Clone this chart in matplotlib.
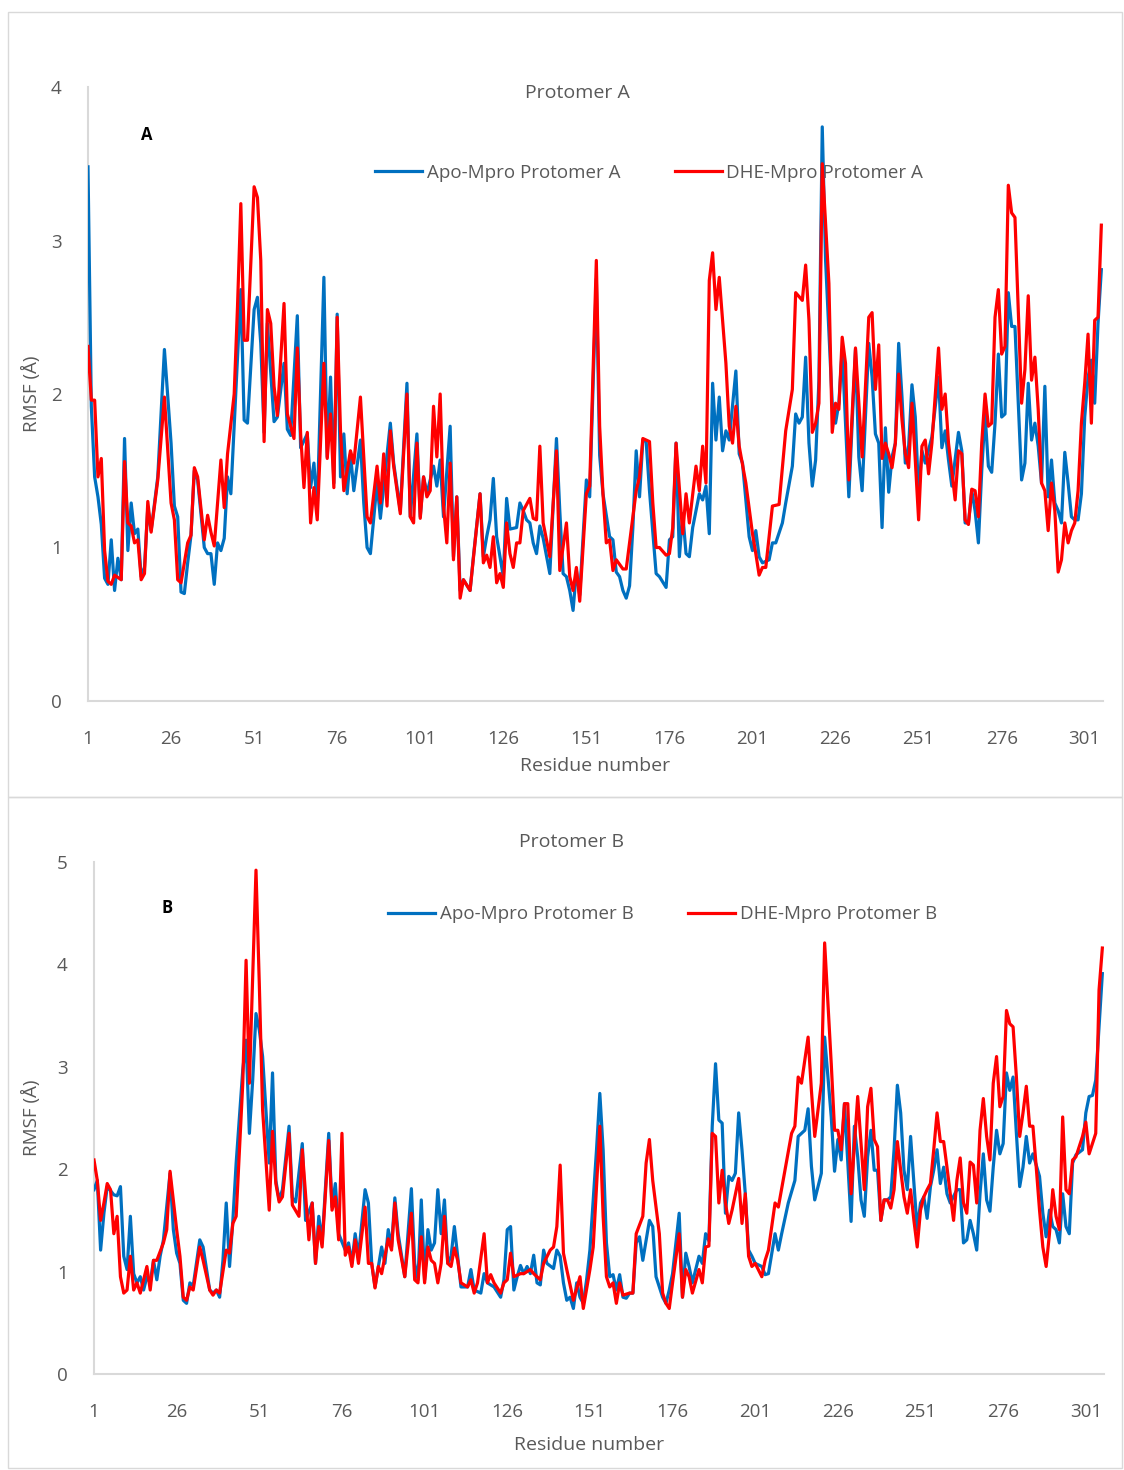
import matplotlib
matplotlib.use("Agg")
import matplotlib.pyplot as plt
from matplotlib.patches import Rectangle

plt.rcParams['font.family'] = ['Open Sans', 'DejaVu Sans']

# ---- Protomer A (residue, RMSF in Angstrom) ----
res_apo_A = [1, 2, 3, 4, 5, 6, 7, 8, 9, 10, 11, 12, 13, 14, 15, 16, 17, 18, 19, 20,
             22, 24, 26, 27, 28, 29, 30, 31, 32, 33, 34, 36, 37, 38, 39, 40, 41, 42, 43, 44,
             45, 47, 48, 49, 51, 52, 53, 54, 55, 57, 58, 60, 61, 62, 64, 65, 67, 68, 69, 70,
             72, 73, 74, 75, 76, 77, 78, 79, 80, 81, 83, 84, 85, 86, 88, 89, 92, 93, 95, 97,
             98, 100, 101, 102, 103, 105, 106, 107, 108, 110, 111, 112, 113, 114, 116, 117, 119, 120, 121, 122,
             123, 124, 125, 126, 127, 128, 130, 131, 132, 133, 134, 135, 136, 137, 138, 140, 142, 143, 144, 145,
             146, 147, 148, 149, 151, 152, 154, 155, 156, 158, 159, 160, 161, 162, 163, 164, 165, 166, 167, 168,
             169, 170, 172, 173, 175, 176, 177, 178, 179, 180, 181, 182, 183, 185, 186, 187, 188, 189, 190, 191,
             192, 193, 194, 196, 197, 198, 200, 201, 202, 203, 204, 206, 207, 208, 210, 211, 213, 214, 215, 216,
             217, 218, 219, 220, 221, 222, 223, 225, 226, 227, 228, 230, 232, 233, 234, 236, 237, 238, 239, 240,
             241, 242, 243, 244, 245, 246, 247, 248, 249, 250, 251, 252, 253, 255, 257, 258, 259, 260, 261, 263,
             264, 265, 266, 267, 268, 269, 270, 271, 272, 273, 274, 275, 276, 277, 278, 279, 280, 281, 282, 283,
             284, 285, 286, 287, 288, 289, 290, 291, 292, 293, 294, 295, 296, 297, 298, 299, 300, 301, 302, 303,
             304, 305, 306]
rmsf_apo_A = [3.48, 1.92, 1.46, 1.33, 1.15, 0.80, 0.76, 1.05, 0.72, 0.93, 0.79, 1.71, 0.98, 1.29, 1.09, 1.12, 0.81, 0.87, 1.26, 1.11,
              1.46, 2.29, 1.68, 1.27, 1.20, 0.71, 0.70, 0.90, 1.08, 1.50, 1.44, 1.00, 0.96, 0.96, 0.76, 1.03, 0.98, 1.06, 1.46, 1.35,
              1.79, 2.68, 1.83, 1.81, 2.55, 2.63, 2.33, 1.75, 2.46, 1.82, 1.85, 2.20, 1.77, 1.73, 2.51, 1.65, 1.74, 1.39, 1.55, 1.26,
              2.76, 1.59, 2.11, 1.42, 2.52, 1.46, 1.74, 1.35, 1.61, 1.37, 1.70, 1.29, 1.00, 0.96, 1.42, 1.19, 1.81, 1.55, 1.24, 2.07,
              1.20, 1.74, 1.20, 1.46, 1.35, 1.53, 1.40, 1.57, 1.20, 1.79, 0.94, 1.33, 0.72, 0.79, 0.72, 0.94, 1.35, 0.94, 1.07, 1.18,
              1.45, 1.07, 0.94, 0.81, 1.32, 1.12, 1.13, 1.29, 1.24, 1.18, 1.16, 1.03, 0.96, 1.14, 1.06, 0.83, 1.71, 1.24, 0.83, 0.81,
              0.72, 0.59, 0.85, 0.69, 1.44, 1.33, 2.75, 1.60, 1.35, 1.07, 1.05, 0.84, 0.81, 0.72, 0.67, 0.75, 1.13, 1.63, 1.33, 1.70,
              1.69, 1.37, 0.83, 0.81, 0.74, 1.05, 1.07, 1.68, 0.94, 1.22, 0.96, 0.94, 1.13, 1.35, 1.31, 1.40, 1.09, 2.07, 1.70, 1.98,
              1.63, 1.76, 1.70, 2.15, 1.61, 1.55, 1.07, 0.98, 1.11, 0.94, 0.90, 0.92, 1.03, 1.03, 1.16, 1.29, 1.53, 1.87, 1.81, 1.85,
              2.24, 1.68, 1.40, 1.57, 2.09, 3.74, 2.87, 1.94, 1.81, 1.94, 2.29, 1.33, 2.29, 1.59, 1.37, 2.33, 2.11, 1.74, 1.68, 1.13,
              1.78, 1.36, 1.59, 1.68, 2.33, 1.98, 1.55, 1.66, 2.06, 1.85, 1.35, 1.63, 1.55, 1.72, 2.11, 1.65, 1.76, 1.57, 1.40, 1.75,
              1.63, 1.16, 1.16, 1.37, 1.24, 1.03, 1.50, 1.87, 1.53, 1.49, 1.81, 2.26, 1.85, 1.87, 2.66, 2.44, 2.44, 1.94, 1.44, 1.55,
              2.07, 1.70, 1.81, 1.66, 1.42, 2.05, 1.33, 1.57, 1.29, 1.24, 1.16, 1.62, 1.42, 1.20, 1.18, 1.18, 1.35, 1.85, 2.11, 2.22,
              1.94, 2.46, 2.81]

res_dhe_A = [1, 2, 3, 4, 5, 6, 7, 8, 9, 11, 12, 13, 14, 15, 16, 17, 18, 19, 20, 22,
             24, 26, 27, 28, 29, 31, 32, 33, 34, 36, 37, 38, 39, 41, 42, 43, 45, 46, 47, 48,
             49, 51, 52, 53, 54, 55, 56, 57, 58, 60, 61, 63, 64, 65, 66, 67, 68, 69, 70, 72,
             73, 74, 75, 76, 77, 78, 80, 81, 83, 85, 86, 88, 89, 90, 91, 92, 93, 95, 97, 98,
             99, 100, 101, 102, 103, 104, 105, 106, 107, 108, 109, 110, 111, 112, 113, 114, 116, 119, 120, 121,
             122, 123, 124, 125, 126, 127, 128, 129, 130, 131, 132, 134, 135, 136, 137, 138, 140, 142, 143, 145,
             146, 147, 148, 149, 151, 152, 154, 155, 156, 157, 158, 159, 160, 162, 163, 164, 166, 167, 168, 170,
             171, 172, 173, 175, 176, 177, 178, 180, 181, 182, 184, 185, 186, 187, 188, 189, 190, 191, 193, 194,
             195, 196, 197, 199, 201, 202, 203, 204, 205, 207, 209, 211, 213, 214, 216, 217, 218, 219, 220, 221,
             222, 224, 225, 226, 227, 228, 229, 230, 232, 233, 234, 236, 237, 238, 239, 240, 241, 242, 243, 244,
             245, 246, 247, 248, 249, 250, 251, 252, 253, 254, 255, 257, 258, 259, 260, 261, 262, 263, 264, 265,
             266, 267, 268, 269, 270, 271, 272, 273, 274, 275, 276, 277, 278, 279, 280, 282, 283, 284, 285, 286,
             287, 288, 289, 290, 291, 292, 293, 294, 295, 296, 297, 298, 299, 300, 301, 302, 303, 304, 305, 306]
rmsf_dhe_A = [2.31, 1.96, 1.96, 1.46, 1.58, 0.98, 0.78, 0.76, 0.82, 0.79, 1.56, 1.16, 1.14, 1.03, 1.05, 0.79, 0.83, 1.30, 1.10, 1.44,
              1.98, 1.29, 1.18, 0.79, 0.77, 1.03, 1.08, 1.52, 1.46, 1.05, 1.21, 1.10, 1.01, 1.57, 1.26, 1.61, 2.00, 2.57, 3.24, 2.35,
              2.35, 3.35, 3.28, 2.87, 1.69, 2.55, 2.46, 2.05, 1.86, 2.59, 1.87, 1.71, 2.30, 1.74, 1.39, 1.75, 1.16, 1.39, 1.18, 2.20,
              1.58, 1.87, 1.39, 2.50, 1.76, 1.37, 1.63, 1.55, 1.98, 1.20, 1.16, 1.53, 1.29, 1.61, 1.27, 1.76, 1.53, 1.22, 2.00, 1.20,
              1.16, 1.68, 1.19, 1.46, 1.33, 1.37, 1.92, 1.59, 2.00, 1.27, 1.03, 1.55, 0.92, 1.33, 0.67, 0.79, 0.72, 1.35, 0.90, 0.95,
              0.87, 1.07, 0.77, 0.83, 0.74, 1.16, 0.96, 0.87, 1.03, 1.03, 1.24, 1.32, 1.19, 1.18, 1.66, 1.16, 0.94, 1.63, 0.85, 1.16,
              0.81, 0.72, 0.87, 0.65, 1.35, 1.40, 2.87, 1.79, 1.35, 1.03, 1.05, 0.85, 0.92, 0.86, 0.86, 1.03, 1.37, 1.46, 1.71, 1.69,
              1.29, 1.00, 1.00, 0.95, 0.96, 1.13, 1.68, 1.09, 1.35, 1.16, 1.53, 1.37, 1.66, 1.42, 2.74, 2.92, 2.55, 2.76, 2.20, 1.79,
              1.68, 1.92, 1.66, 1.42, 1.09, 0.96, 0.82, 0.87, 0.87, 1.27, 1.28, 1.76, 2.03, 2.66, 2.61, 2.84, 2.48, 1.75, 1.81, 1.94,
              3.50, 2.72, 1.75, 1.94, 1.90, 2.37, 2.20, 1.44, 2.30, 1.94, 1.59, 2.50, 2.53, 2.03, 2.32, 1.58, 1.68, 1.61, 1.52, 1.68,
              2.13, 1.83, 1.61, 1.52, 1.94, 1.57, 1.18, 1.66, 1.70, 1.48, 1.68, 2.30, 1.90, 2.00, 1.68, 1.50, 1.31, 1.63, 1.61, 1.18,
              1.15, 1.38, 1.37, 1.20, 1.68, 2.00, 1.79, 1.81, 2.50, 2.68, 2.26, 2.31, 3.36, 3.18, 3.15, 1.94, 2.16, 2.64, 2.09, 2.24,
              1.90, 1.42, 1.37, 1.11, 1.42, 1.24, 0.84, 0.92, 1.16, 1.03, 1.11, 1.16, 1.37, 1.81, 2.07, 2.39, 1.81, 2.48, 2.50, 3.10]

# ---- Protomer B ----
res_apo_B = [1, 2, 3, 4, 5, 7, 8, 9, 10, 11, 12, 13, 14, 15, 16, 17, 18, 19, 20, 21,
             22, 24, 25, 26, 27, 28, 29, 30, 31, 33, 34, 36, 37, 38, 39, 40, 41, 42, 43, 44,
             46, 47, 48, 49, 50, 51, 52, 54, 55, 56, 57, 58, 60, 61, 62, 64, 65, 67, 68, 69,
             70, 72, 73, 74, 75, 77, 78, 79, 80, 81, 83, 84, 85, 86, 88, 89, 90, 91, 92, 93,
             95, 97, 98, 99, 100, 101, 102, 103, 104, 105, 106, 107, 108, 109, 110, 111, 112, 114, 115, 116,
             118, 119, 120, 122, 124, 125, 126, 127, 128, 129, 130, 131, 132, 133, 134, 135, 136, 137, 138, 140,
             141, 142, 143, 144, 145, 146, 147, 148, 149, 150, 151, 153, 154, 155, 156, 157, 158, 159, 160, 161,
             162, 163, 164, 165, 166, 167, 169, 170, 171, 173, 174, 175, 176, 178, 179, 180, 181, 182, 184, 185,
             186, 187, 188, 189, 190, 191, 192, 193, 194, 195, 196, 197, 198, 199, 200, 201, 203, 204, 205, 207,
             208, 209, 211, 213, 214, 216, 217, 218, 219, 220, 221, 222, 224, 225, 226, 227, 228, 230, 231, 232,
             233, 234, 235, 236, 237, 238, 239, 240, 241, 242, 243, 244, 245, 246, 247, 248, 249, 250, 251, 252,
             253, 254, 255, 256, 257, 258, 259, 260, 262, 263, 264, 265, 266, 267, 268, 269, 270, 271, 272, 273,
             274, 275, 276, 277, 278, 279, 280, 281, 282, 283, 284, 285, 287, 288, 289, 290, 291, 292, 293, 294,
             295, 296, 297, 298, 300, 301, 302, 303, 304, 306]
rmsf_apo_B = [1.80, 1.89, 1.21, 1.57, 1.83, 1.75, 1.74, 1.83, 1.15, 1.02, 1.54, 0.98, 0.89, 0.95, 0.82, 0.95, 0.89, 1.11, 0.92, 1.15,
              1.31, 1.96, 1.41, 1.18, 1.08, 0.72, 0.69, 0.89, 0.86, 1.31, 1.24, 0.82, 0.79, 0.82, 0.75, 1.11, 1.67, 1.05, 1.50, 2.06,
              2.97, 3.26, 2.35, 2.87, 3.52, 3.36, 3.10, 2.06, 2.94, 1.89, 1.70, 1.80, 2.42, 1.72, 1.68, 2.25, 1.50, 1.67, 1.08, 1.54,
              1.28, 2.35, 1.63, 1.86, 1.37, 1.21, 1.28, 1.08, 1.37, 1.15, 1.80, 1.67, 1.08, 0.85, 1.24, 1.08, 1.41, 1.24, 1.72, 1.37,
              0.95, 1.81, 1.08, 0.92, 1.70, 0.92, 1.41, 1.21, 1.28, 1.80, 1.37, 1.70, 1.08, 1.15, 1.44, 1.15, 0.85, 0.85, 1.02, 0.82,
              0.79, 0.98, 0.89, 0.85, 0.75, 0.92, 1.41, 1.44, 0.82, 0.95, 1.06, 0.98, 1.05, 0.98, 1.16, 0.89, 0.87, 1.21, 1.08, 1.03,
              1.21, 1.15, 0.89, 0.72, 0.75, 0.64, 0.89, 0.75, 0.69, 0.92, 1.21, 2.19, 2.74, 2.19, 1.28, 0.95, 0.97, 0.82, 0.97, 0.75,
              0.74, 0.79, 0.79, 1.28, 1.34, 1.11, 1.50, 1.44, 0.95, 0.75, 0.69, 0.82, 0.98, 1.57, 0.75, 1.18, 1.05, 0.89, 1.15, 1.08,
              1.37, 1.30, 2.42, 3.03, 2.48, 2.45, 1.57, 1.93, 1.89, 1.96, 2.55, 2.19, 1.76, 1.21, 1.15, 1.08, 1.05, 0.97, 0.98, 1.37,
              1.21, 1.37, 1.67, 1.89, 2.32, 2.38, 2.59, 2.03, 1.70, 1.83, 1.96, 3.29, 2.51, 1.98, 2.29, 2.09, 2.64, 1.49, 2.42, 2.12,
              1.70, 1.54, 2.12, 2.38, 1.99, 1.99, 1.50, 1.70, 1.70, 1.73, 2.19, 2.82, 2.55, 1.99, 1.80, 2.32, 1.86, 1.41, 1.67, 1.73,
              1.52, 1.83, 1.99, 2.19, 1.86, 2.02, 1.76, 1.67, 1.80, 1.80, 1.28, 1.31, 1.50, 1.37, 1.21, 1.76, 2.15, 1.70, 1.59, 2.02,
              2.38, 2.15, 2.25, 2.94, 2.77, 2.90, 2.35, 1.83, 2.02, 2.32, 2.06, 2.15, 1.93, 1.57, 1.34, 1.60, 1.44, 1.41, 1.28, 1.76,
              1.44, 1.37, 2.06, 2.14, 2.19, 2.55, 2.71, 2.72, 2.87, 3.91]

res_dhe_B = [1, 2, 3, 4, 5, 6, 7, 8, 9, 10, 11, 12, 13, 14, 15, 17, 18, 19, 20, 22,
             23, 24, 26, 27, 28, 29, 30, 31, 33, 34, 36, 37, 38, 39, 41, 42, 43, 44, 46, 47,
             48, 50, 51, 52, 54, 55, 56, 57, 58, 60, 61, 63, 64, 66, 67, 68, 69, 70, 72, 73,
             74, 75, 76, 77, 78, 79, 80, 81, 83, 84, 85, 86, 87, 88, 90, 91, 92, 93, 95, 97,
             98, 99, 100, 101, 102, 103, 104, 105, 106, 107, 108, 109, 110, 111, 112, 114, 115, 116, 117, 119,
             120, 121, 122, 124, 125, 126, 127, 128, 130, 131, 133, 134, 136, 137, 139, 140, 141, 142, 143, 144,
             146, 148, 149, 151, 152, 154, 155, 156, 157, 158, 159, 160, 161, 163, 164, 165, 167, 168, 169, 170,
             172, 173, 174, 175, 176, 178, 179, 180, 181, 182, 184, 185, 186, 187, 188, 189, 190, 191, 192, 193,
             194, 196, 197, 198, 199, 200, 201, 203, 204, 205, 207, 208, 210, 212, 213, 214, 215, 217, 218, 219,
             220, 221, 222, 224, 225, 226, 227, 228, 229, 230, 232, 234, 235, 236, 237, 238, 239, 240, 241, 242,
             243, 244, 245, 246, 247, 248, 249, 250, 251, 252, 253, 254, 255, 256, 257, 258, 259, 260, 261, 262,
             263, 264, 265, 266, 267, 268, 269, 270, 271, 272, 273, 274, 275, 276, 277, 278, 279, 280, 281, 282,
             283, 284, 285, 286, 287, 288, 289, 290, 291, 292, 293, 294, 295, 296, 297, 298, 300, 301, 302, 303,
             304, 305, 306]
rmsf_dhe_B = [2.09, 1.89, 1.50, 1.67, 1.86, 1.80, 1.37, 1.54, 0.95, 0.79, 0.82, 1.15, 0.82, 0.89, 0.79, 1.05, 0.82, 1.11, 1.11, 1.28,
              1.41, 1.98, 1.41, 1.15, 0.75, 0.72, 0.85, 0.82, 1.24, 1.11, 0.82, 0.77, 0.82, 0.79, 1.21, 1.18, 1.47, 1.54, 2.84, 4.04,
              2.84, 4.92, 3.81, 2.58, 1.60, 2.37, 1.86, 1.68, 1.73, 2.35, 1.65, 1.54, 2.19, 1.31, 1.67, 1.08, 1.44, 1.24, 2.28, 1.60,
              1.73, 1.31, 2.35, 1.16, 1.24, 1.05, 1.31, 1.08, 1.63, 1.08, 1.08, 0.84, 1.05, 0.98, 1.32, 1.21, 1.67, 1.31, 0.95, 1.57,
              0.92, 0.89, 1.34, 0.89, 1.24, 1.11, 1.08, 0.89, 1.08, 1.54, 1.08, 1.05, 1.23, 1.11, 0.89, 0.85, 0.92, 0.79, 0.89, 1.37,
              0.89, 0.97, 0.89, 0.79, 0.89, 0.92, 1.18, 0.95, 0.98, 0.98, 1.02, 0.98, 0.92, 1.08, 1.21, 1.24, 1.44, 2.04, 1.18, 1.02,
              0.72, 0.95, 0.64, 1.02, 1.24, 2.42, 1.54, 0.95, 0.85, 0.89, 0.69, 0.89, 0.77, 0.79, 0.79, 1.37, 1.54, 2.06, 2.29, 1.89,
              1.37, 0.79, 0.69, 0.64, 0.89, 1.37, 0.75, 1.02, 0.95, 0.79, 1.02, 0.89, 1.24, 1.25, 2.35, 2.32, 1.67, 1.99, 1.67, 1.47,
              1.60, 1.91, 1.47, 1.76, 1.15, 1.05, 1.08, 0.95, 1.11, 1.21, 1.67, 1.63, 1.99, 2.35, 2.42, 2.90, 2.84, 3.29, 2.77, 2.32,
              2.58, 2.84, 4.21, 3.03, 2.38, 2.38, 2.19, 2.64, 2.64, 1.76, 2.71, 1.80, 2.61, 2.79, 2.29, 2.22, 1.50, 1.70, 1.70, 1.62,
              1.80, 2.27, 1.99, 1.73, 1.57, 1.80, 1.50, 1.24, 1.60, 1.73, 1.80, 1.86, 2.19, 2.55, 2.27, 2.27, 2.02, 1.76, 1.50, 1.89,
              2.11, 1.67, 1.57, 2.07, 2.04, 1.67, 2.38, 2.69, 2.32, 2.09, 2.84, 3.10, 2.61, 2.71, 3.55, 3.42, 3.39, 2.90, 2.32, 2.55,
              2.81, 2.42, 2.42, 2.02, 1.60, 1.24, 1.05, 1.37, 1.80, 1.54, 1.41, 2.51, 1.80, 1.76, 2.09, 2.12, 2.32, 2.46, 2.15, 2.25,
              2.35, 3.75, 4.16]

xticks = [1, 26, 51, 76, 101, 126, 151, 176, 201, 226, 251, 276, 301]

panels = [
    dict(title="Protomer A", letter="A", ymax=4,
         apo=(res_apo_A, rmsf_apo_A), dhe=(res_dhe_A, rmsf_dhe_A),
         labels=("Apo-Mpro Protomer A", "DHE-Mpro Protomer A"),
         rect=[88 / 1124, 1 - 701 / 1470, 1015 / 1124, 614 / 1470],
         title_xy=(0.482, 0.99), letter_xy=(0.058, 0.922), leg_xy=(0.553, 0.86),
         ylab_xy=(-0.046, 0.5), xlab_xy=(0.5, -0.091)),
    dict(title="Protomer B", letter="B", ymax=5,
         apo=(res_apo_B, rmsf_apo_B), dhe=(res_dhe_B, rmsf_dhe_B),
         labels=("Apo-Mpro Protomer B", "DHE-Mpro Protomer B"),
         rect=[94 / 1124, 1 - 1374 / 1470, 1010 / 1124, 512 / 1470],
         title_xy=(0.473, 1.039), letter_xy=(0.072, 0.91), leg_xy=(0.563, 0.898),
         ylab_xy=(-0.052, 0.5), xlab_xy=(0.49, -0.121)),
]

grey = "#595959"
fig = plt.figure(figsize=(11.24, 14.7), dpi=100)

# light panel frames (top panel: y 12..797 px, bottom panel: y 797..1468 px)
fig.patches.append(Rectangle((8 / 1124, 1 - 797 / 1470), 1114 / 1124, 785 / 1470,
                             transform=fig.transFigure, fill=False, ec="#d9d9d9", lw=1))
fig.patches.append(Rectangle((8 / 1124, 2 / 1470), 1114 / 1124, 671 / 1470,
                             transform=fig.transFigure, fill=False, ec="#d9d9d9", lw=1))

for p in panels:
    ax = fig.add_axes(p["rect"])
    ax.plot(*p["apo"], color="#0070C0", lw=2.3, label=p["labels"][0], zorder=3)
    ax.plot(*p["dhe"], color="#FF0000", lw=2.3, label=p["labels"][1], zorder=3)

    ax.set_xlim(1, 306.5)
    ax.set_ylim(0, p["ymax"])
    ax.set_xticks(xticks)
    ax.set_yticks(range(p["ymax"] + 1))
    ax.tick_params(length=0, labelsize=13.5, labelcolor=grey)
    ax.tick_params(axis="x", pad=21)
    ax.tick_params(axis="y", pad=19)
    for s in ["top", "right"]:
        ax.spines[s].set_visible(False)
    for s in ["left", "bottom"]:
        ax.spines[s].set_color("#d9d9d9")
        ax.spines[s].set_linewidth(1.5)

    ax.set_ylabel("RMSF (Å)", fontsize=13.5, color=grey)
    ax.yaxis.set_label_coords(*p["ylab_xy"])
    ax.set_xlabel("Residue number", fontsize=14, color=grey)
    ax.xaxis.set_label_coords(*p["xlab_xy"])

    ax.text(*p["title_xy"], p["title"], transform=ax.transAxes, ha="center", va="center",
            fontsize=14, color=grey)
    ax.text(*p["letter_xy"], p["letter"], transform=ax.transAxes, ha="center", va="center",
            fontsize=12, fontweight="bold", color="black")

    leg = ax.legend(loc="center", bbox_to_anchor=p["leg_xy"], ncol=2, frameon=False,
                    fontsize=13.5, handlelength=2.5, handletextpad=0.25, columnspacing=2.9)
    leg.set_zorder(1)
    for t in leg.get_texts():
        t.set_color(grey)

fig.savefig("out.png", dpi=100)
